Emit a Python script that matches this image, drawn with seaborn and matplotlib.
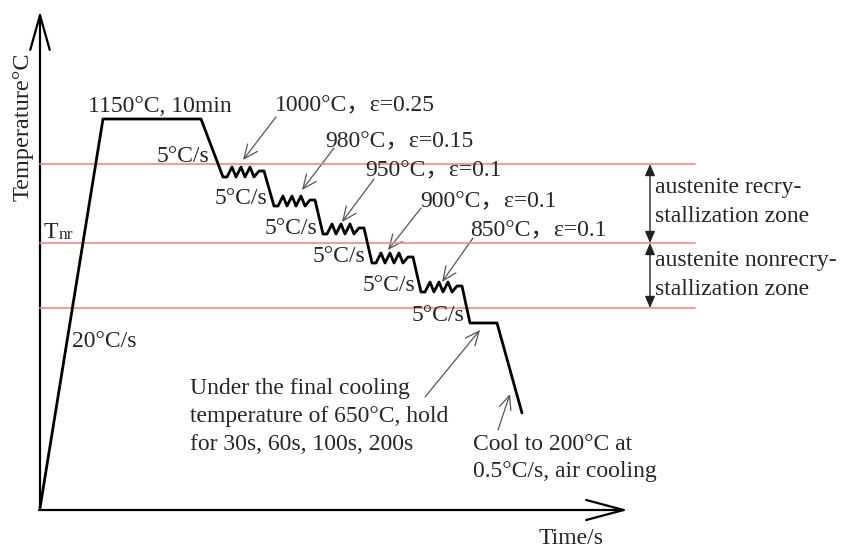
import matplotlib
matplotlib.use("Agg")
import matplotlib.pyplot as plt
import seaborn as sns
import pandas as pd
from matplotlib.patches import FancyArrowPatch

sns.set_theme(style="white")
plt.rcParams["font.family"] = ["Liberation Serif", "Noto Sans CJK SC", "DejaVu Sans"]

# Schematic diagram units (time to the right, temperature upward on screen)
# Heating, soaking and the first cooling segment
heat_x = [40, 103, 201]
heat_y = [508, 119, 119]

# Starting corner of each rolling pass (bottom-left of each zigzag)
pass_x = [223, 274, 323, 372, 421]
pass_y = [177, 206, 234, 263, 292]

# Zigzag shape of one deformation pass, relative to its starting corner
tooth_dx = [0, 4, 9, 13, 18, 22, 27, 31, 36, 41]
tooth_dy = [0, 0, -10, 0, -10, 0, -10, 0, -6, -6]

# Holding at the final cooling temperature and the final cooling segment
tail_x = [470, 497, 522]
tail_y = [323, 323, 413]

# Zone boundaries (top of recrystallization zone, Tnr, lower boundary)
zone_y = [164, 243, 308]

# Pass labels and their arrow geometry
pass_labels = ["1000°C，ε=0.25", "980°C，ε=0.15", "950°C，ε=0.1",
               "900°C，ε=0.1", "850°C，ε=0.1"]
pass_label_xy = [(275, 111), (325, 147), (365, 176), (420, 207), (470, 236)]
pass_arrow_from = [(276, 117), (334, 148), (374, 179), (421, 208), (473, 238)]
pass_arrow_to = [(243, 160), (302, 190), (342, 222), (388, 250), (442, 282)]

rate_labels = ["5°C/s"] * 6
rate_xy = [(157, 162), (215, 204), (265, 234), (313, 262), (363, 291), (412, 321)]

# Build the full temperature path
path_x = list(heat_x)
path_y = list(heat_y)
for x0, y0 in zip(pass_x, pass_y):
    for dx, dy in zip(tooth_dx, tooth_dy):
        path_x.append(x0 + dx)
        path_y.append(y0 + dy)
path_x += tail_x
path_y += tail_y
path = pd.DataFrame({"t": path_x, "T": path_y})

fig = plt.figure(figsize=(8.42, 5.48), dpi=100)
ax = fig.add_axes([0, 0, 1, 1])
ax.set_xlim(0, 842)
ax.set_ylim(548, 0)
ax.axis("off")

# Zone boundary lines
for yv in zone_y:
    sns.lineplot(x=[40, 695], y=[yv, yv], ax=ax, color="#ef8a8a", lw=1.2)

# Process path
sns.lineplot(data=path, x="t", y="T", sort=False, estimator=None, ax=ax,
             color="black", lw=2.0)

# Axes with open arrowheads
ax.add_patch(FancyArrowPatch((40, 510), (40, 11), arrowstyle="->,head_length=1.25,head_width=0.35",
                             mutation_scale=20, lw=1.6, color="black", shrinkA=0, shrinkB=0))
ax.add_patch(FancyArrowPatch((39, 510), (628, 510), arrowstyle="->,head_length=1.35,head_width=0.36",
                             mutation_scale=20, lw=1.6, color="black", shrinkA=0, shrinkB=0))

fs = 17
ax.text(23, 127, "Temperature°C", rotation=90, ha="center", va="center", fontsize=17.5)
ax.text(571, 544, "Time/s", ha="center", va="baseline", fontsize=fs)
ax.text(44, 238, "T", ha="left", va="baseline", fontsize=fs)
ax.text(59, 239, "nr", ha="left", va="baseline", fontsize=12.5)
ax.text(88, 112, "1150°C, 10min", ha="left", va="baseline", fontsize=fs)
ax.text(72, 347, "20°C/s", ha="left", va="baseline", fontsize=fs)

for lab, (x, y) in zip(rate_labels, rate_xy):
    ax.text(x, y, lab, ha="left", va="baseline", fontsize=fs)

arrow_kw = dict(arrowstyle="->,head_length=0.5,head_width=0.22", mutation_scale=20,
                lw=0.9, color="#555555", shrinkA=0, shrinkB=0)
for lab, (x, y), a0, a1 in zip(pass_labels, pass_label_xy, pass_arrow_from, pass_arrow_to):
    ax.text(x, y, lab, ha="left", va="baseline", fontsize=fs)
    ax.add_patch(FancyArrowPatch(a0, a1, **arrow_kw))

# Holding and cooling notes
hold_lines = ["Under the final cooling", "temperature of 650°C, hold", "for 30s, 60s, 100s, 200s"]
for i, line in enumerate(hold_lines):
    ax.text(190, 394 + 28 * i, line, ha="left", va="baseline", fontsize=fs)
ax.add_patch(FancyArrowPatch((425, 397), (480, 330), **arrow_kw))

cool_lines = ["Cool to 200°C at", "0.5°C/s, air cooling"]
for i, line in enumerate(cool_lines):
    ax.text(473, 450 + 27 * i, line, ha="left", va="baseline", fontsize=fs)
ax.add_patch(FancyArrowPatch((498, 430), (510, 394), **arrow_kw))

# Zone annotations with double arrows
dbl_kw = dict(arrowstyle="<|-|>,head_length=0.35,head_width=0.15", mutation_scale=20,
              lw=1.0, color="#222222", shrinkA=0, shrinkB=0)
ax.add_patch(FancyArrowPatch((650, zone_y[0]), (650, zone_y[1]), **dbl_kw))
ax.add_patch(FancyArrowPatch((650, zone_y[1]), (650, zone_y[2]), **dbl_kw))
zone_text = ["austenite recry-", "stallization zone", "austenite nonrecry-", "stallization zone"]
zone_base = [193, 222, 266, 295]
for t, yb in zip(zone_text, zone_base):
    ax.text(655, yb, t, ha="left", va="baseline", fontsize=fs)

fig.savefig("out.png", dpi=100)
